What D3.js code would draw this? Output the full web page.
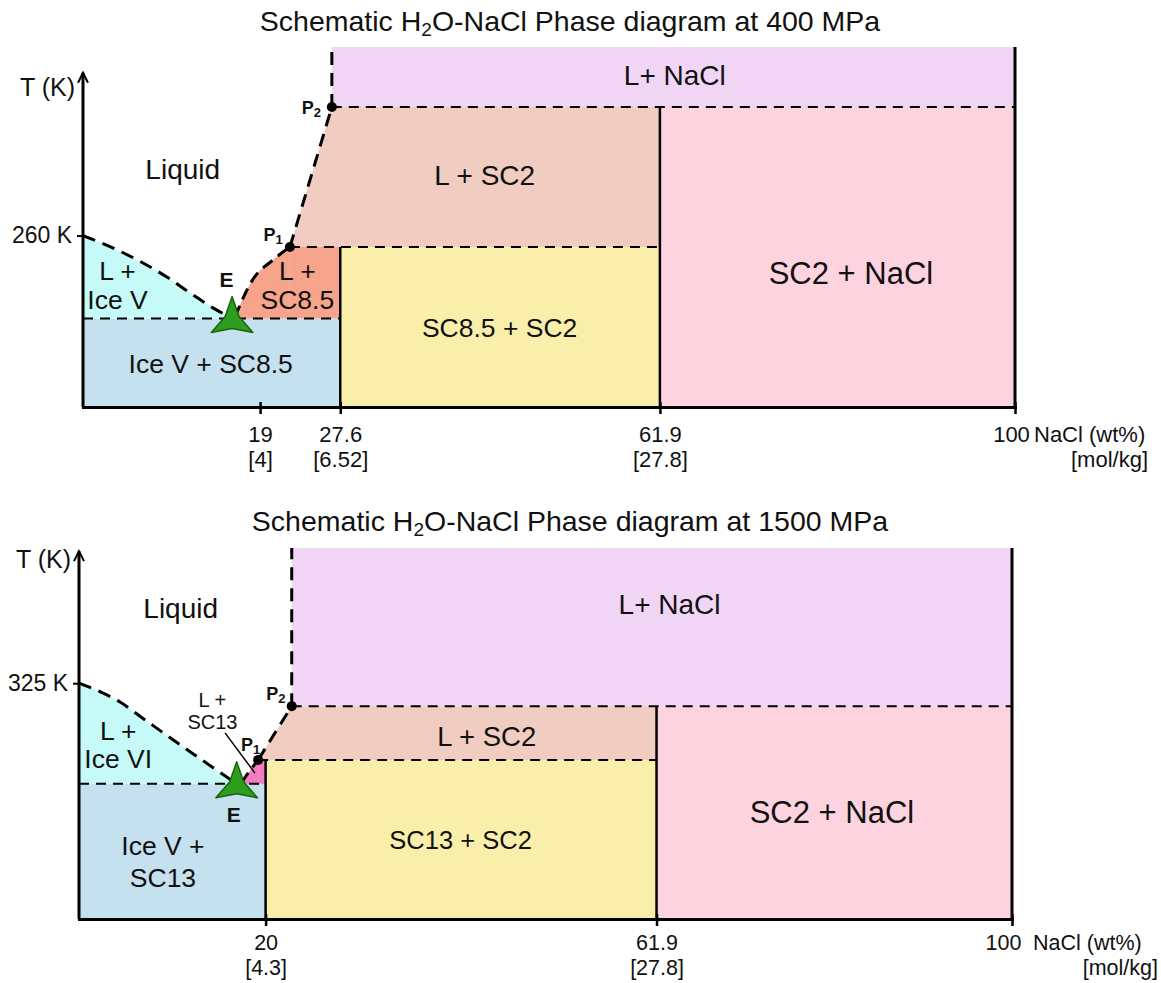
<!DOCTYPE html>
<html><head><meta charset="utf-8">
<script src="https://cdn.jsdelivr.net/npm/d3@7"></script>
<style>
body{margin:0;background:#fff;}
svg{display:block;font-family:"Liberation Sans",Arial,Helvetica,sans-serif;}
</style></head><body>
<svg id="chart" width="1161" height="983"></svg>
<script>
// ===================== DATA (wt% NaCl, temperature in K; schematic) =====================
// --- 400 MPa ---
const pressure400 = "400";
const xTicks400 = [19, 27.6, 61.9, 100];
const xTickWt400 = ["19", "27.6", "61.9", "100"];
const xTickMol400 = ["[4]", "[6.52]", "[27.8]", ""];
const tRange400 = [200, 326];
const tTick400 = 260;
const tArrow400 = 317;
const eutectic400 = [16, 231];
const iceLiquidus400 = [[0, 260], [3.65, 255], [6.44, 250.4], [9.0, 245.5], [11.5, 239.9], [13.95, 234.7], [16, 231]];
const scLiquidus400 = [[16.3, 231.5], [18.2, 244.5], [20.4, 251.5], [22.2, 256]];
const p1_400 = [22.2, 256];
const p2_400 = [26.7, 305];
const solidBounds400 = [27.6, 61.9];

// --- 1500 MPa ---
const pressure1500 = "1500";
const xTicks1500 = [20, 61.9, 100];
const xTickWt1500 = ["20", "61.9", "100"];
const xTickMol1500 = ["[4.3]", "[27.8]", ""];
const tRange1500 = [250, 368];
const tTick1500 = 325;
const tArrow1500 = 367;
const eutectic1500 = [16.9, 293];
const iceLiquidus1500 = [[0, 325], [2.25, 322.3], [4.4, 319], [6.86, 313.8], [11.9, 303.2], [16.9, 293]];
const scLiquidus1500 = [[17.4, 293.3], [18.4, 297.5], [19.2, 300.6]];
const p1_1500 = [19.2, 300.6];
const p2_1500 = [22.8, 317.7];
const solidBounds1500 = [20, 61.9];

// ===================== COLOURS =====================
const C = {
  iceSolid: "#c5e0ee", iceLiq: "#c6faf9", sc85Liq: "#f6a58c", sc13Liq: "#f27cbf",
  yellow: "#f9efaa", lsc2: "#f0cdc0", sc2nacl: "#fdd3df", lnacl: "#f1d5f5"
};

const svg = d3.select("#chart");

function starPath(cx, cy, R, r) {
  const pts = [];
  for (let i = 0; i < 6; i++) {
    const a = (-90 + i * 60) * Math.PI / 180;
    const rad = i % 2 === 0 ? R : r;
    pts.push([cx + rad * Math.cos(a), cy + rad * Math.sin(a)]);
  }
  return d3.line()(pts) + "Z";
}

function drawDiagram(cfg) {
  const g = svg.append("g");
  const x = d3.scaleLinear().domain([0, 100]).range(cfg.xRange);
  const y = d3.scaleLinear().domain(cfg.tRange).range(cfg.yRange);
  const [tMin, tMax] = cfg.tRange;
  const [b0, b1] = cfg.bounds;
  const eT = cfg.eut[1];
  const rect = (x0, x1, t0, t1, c) => g.append("rect")
    .attr("x", x(x0)).attr("y", y(t1)).attr("width", x(x1) - x(x0)).attr("height", y(t0) - y(t1)).attr("fill", c);
  const poly = (pts, c) => g.append("path")
    .attr("d", d3.line().x(d => x(d[0])).y(d => y(d[1]))(pts) + "Z").attr("fill", c);
  const area = (pts, c) => g.append("path")
    .attr("d", d3.area().x(d => x(d[0])).y0(y(eT)).y1(d => y(d[1])).curve(d3.curveMonotoneX)(pts)).attr("fill", c);

  // ---- fills ----
  rect(0, b0, tMin, eT, C.iceSolid);
  area(cfg.iceLiq, C.iceLiq);
  area(cfg.scLiq, cfg.scColor);
  rect(cfg.p1[0], b0, eT, cfg.p1[1], cfg.scColor);
  rect(b0, b1, tMin, cfg.p1[1], C.yellow);
  poly([cfg.p1, cfg.p2, [b1, cfg.p2[1]], [b1, cfg.p1[1]]], C.lsc2);
  rect(b1, 100, tMin, cfg.p2[1], C.sc2nacl);
  rect(cfg.p2[0], 100, cfg.p2[1], tMax, C.lnacl);

  // ---- lines ----
  const seg = (pts, w, dash, curve) => g.append("path")
    .attr("d", d3.line().x(d => x(d[0])).y(d => y(d[1])).curve(curve || d3.curveLinear)(pts))
    .attr("fill", "none").attr("stroke", "#000").attr("stroke-width", w)
    .attr("stroke-dasharray", dash);
  seg([[0, eT], [b0, eT]], 2, "10,7");
  seg([cfg.p1, [b1, cfg.p1[1]]], 2, "10,7");
  seg([cfg.p2, [100, cfg.p2[1]]], 2, "10,7");
  seg(cfg.iceLiq, 3, "13,8", d3.curveMonotoneX);
  seg(cfg.scLiq, 3, "12,7", d3.curveMonotoneX);
  seg([cfg.p1, cfg.p2], 3, "13,8");
  seg([cfg.p2, [cfg.p2[0], tMax]], 3, "13,8");
  seg([[b0, tMin], [b0, cfg.p1[1]]], 2.5, null);
  seg([[b1, tMin], [b1, cfg.p2[1]]], 2.5, null);
  seg([[100, tMin], [100, tMax]], 3, null);

  // ---- x axis ----
  const xAxis = d3.axisBottom(x).tickValues(cfg.ticks).tickFormat((d, i) => cfg.wt[i])
    .tickSizeInner(7).tickSizeOuter(0).tickPadding(0);
  const ax = g.append("g").attr("transform", `translate(0,${y(tMin)})`).call(xAxis)
    .attr("font-family", null).attr("font-size", null);
  ax.select(".domain").attr("stroke-width", 3).attr("stroke-linecap", "square");
  ax.selectAll(".tick line").attr("stroke-width", 2.5).attr("y1", -5);
  ax.selectAll(".tick text").attr("dy", null).attr("y", cfg.lab1).attr("font-size", cfg.axFs)
    .attr("dx", (d, i) => i === cfg.ticks.length - 1 ? cfg.lastDx : 0).attr("fill", "#111");
  ax.selectAll(".tick").append("text").text((d, i) => cfg.mol[i])
    .attr("y", cfg.lab2).attr("font-size", cfg.axFs).attr("text-anchor", "middle").attr("fill", "#111");
  g.append("text").attr("x", x(100) + cfg.naclDx).attr("y", y(tMin) + cfg.lab1)
    .attr("font-size", cfg.axFs).attr("fill", "#111").text("NaCl (wt%)");
  g.append("text").attr("x", cfg.molRight).attr("y", y(tMin) + cfg.lab2).attr("text-anchor", "end")
    .attr("font-size", cfg.axFs).attr("fill", "#111").text("[mol/kg]");

  // ---- y axis ----
  const yAxis = d3.axisLeft(y).tickValues([cfg.tTick]).tickFormat(d => d + " K").tickSize(6).tickPadding(5);
  const ay = g.append("g").attr("transform", `translate(${x(0)},0)`).call(yAxis)
    .attr("font-family", null).attr("font-size", null);
  ay.select(".domain").remove();
  ay.selectAll(".tick line").attr("stroke-width", 2);
  ay.selectAll(".tick text").attr("font-size", 23).attr("fill", "#111");
  seg([[0, tMin], [0, cfg.tArrow]], 3, null);
  const tip = y(cfg.tArrow), x0 = x(0);
  g.append("path").attr("d", `M${x0 - 5},${tip + 10}L${x0},${tip}L${x0 + 5},${tip + 10}`)
    .attr("fill", "none").attr("stroke", "#000").attr("stroke-width", 2);
  g.append("text").attr("x", x0 - 8).attr("y", tip + cfg.tkDy).attr("text-anchor", "end")
    .attr("font-size", 25).attr("fill", "#111").text("T (K)");

  // ---- title ----
  const tt = g.append("text").attr("x", 570).attr("y", cfg.titleY).attr("text-anchor", "middle")
    .attr("font-size", 28.5).attr("fill", "#111");
  tt.append("tspan").text("Schematic H");
  tt.append("tspan").attr("font-size", 19).attr("dy", 5).text("2");
  tt.append("tspan").attr("dy", -5).text(`O-NaCl Phase diagram at ${cfg.pressure} MPa`);

  // ---- points ----
  [cfg.p1, cfg.p2].forEach(p => g.append("circle").attr("cx", x(p[0])).attr("cy", y(p[1])).attr("r", 5).attr("fill", "#000"));
  g.append("path").attr("d", starPath(x(cfg.eut[0]), y(cfg.eut[1]) + 2, 24, 8))
    .attr("fill", "#2e9c1c").attr("stroke", "#17650f").attr("stroke-width", 1.5).attr("stroke-linejoin", "round");

  // ---- labels ----
  cfg.labels.forEach(L => {
    const t = g.append("text").attr("text-anchor", "middle").attr("font-size", L.s)
      .attr("font-weight", L.b ? "bold" : null).attr("fill", "#111");
    const n = L.t.length;
    L.t.forEach((line, i) => {
      t.append("tspan").attr("x", x(L.x)).attr("y", y(L.T) + (i - (n - 1) / 2) * (L.sp || 0))
        .attr("dominant-baseline", "central").text(line);
    });
  });
  cfg.pLabels.forEach(L => {
    const t = g.append("text").attr("x", x(L.x)).attr("y", y(L.T)).attr("text-anchor", "middle")
      .attr("dominant-baseline", "central").attr("font-weight", "bold").attr("font-size", 18).attr("fill", "#111");
    t.append("tspan").text("P");
    t.append("tspan").attr("font-size", 13).attr("dy", 4).text(L.sub);
  });
  if (cfg.leader) seg(cfg.leader, 1.5, null);
}

drawDiagram({
  pressure: pressure400, xRange: [83, 1015], yRange: [407, 47], tRange: tRange400,
  ticks: xTicks400, wt: xTickWt400, mol: xTickMol400, tTick: tTick400, tArrow: tArrow400,
  eut: eutectic400, iceLiq: iceLiquidus400, scLiq: scLiquidus400, p1: p1_400, p2: p2_400,
  bounds: solidBounds400, scColor: C.sc85Liq, titleY: 31, lab1: 35, lab2: 60, lastDx: -4,
  axFs: 22, naclDx: 19, molRight: 1148, tkDy: 23,
  labels: [
    { t: ["Liquid"], x: 10.7, T: 283, s: 28 },
    { t: ["L +", "Ice V"], x: 3.7, T: 242.5, s: 26.5, sp: 29 },
    { t: ["E"], x: 15.4, T: 244.5, s: 21, b: true },
    { t: ["L +", "SC8.5"], x: 23.0, T: 242.4, s: 26.5, sp: 29 },
    { t: ["Ice V + SC8.5"], x: 13.7, T: 215, s: 26.5 },
    { t: ["SC8.5 + SC2"], x: 44.7, T: 227.7, s: 26.5 },
    { t: ["L + SC2"], x: 43.1, T: 280.9, s: 28 },
    { t: ["SC2 + NaCl"], x: 82.4, T: 246.9, s: 31 },
    { t: ["L+ NaCl"], x: 63.5, T: 316.2, s: 28 }
  ],
  pLabels: [{ sub: "1", x: 20.4, T: 260.2 }, { sub: "2", x: 24.5, T: 304.5 }]
});

drawDiagram({
  pressure: pressure1500, xRange: [79, 1012], yRange: [919, 548], tRange: tRange1500,
  ticks: xTicks1500, wt: xTickWt1500, mol: xTickMol1500, tTick: tTick1500, tArrow: tArrow1500,
  eut: eutectic1500, iceLiq: iceLiquidus1500, scLiq: scLiquidus1500, p1: p1_1500, p2: p2_1500,
  bounds: solidBounds1500, scColor: C.sc13Liq, titleY: 531, lab1: 31, lab2: 56, lastDx: -9,
  axFs: 21.5, naclDx: 21, molRight: 1158, tkDy: 17,
  labels: [
    { t: ["Liquid"], x: 10.9, T: 348.9, s: 28 },
    { t: ["L +", "Ice VI"], x: 4.2, T: 305.3, s: 26.5, sp: 28 },
    { t: ["E"], x: 16.6, T: 283.1, s: 21, b: true },
    { t: ["L +", "SC13"], x: 14.3, T: 316.3, s: 20, sp: 22 },
    { t: ["Ice V +", "SC13"], x: 9.0, T: 268.1, s: 26.5, sp: 32 },
    { t: ["SC13 + SC2"], x: 40.9, T: 275.1, s: 25.5 },
    { t: ["L + SC2"], x: 43.7, T: 307.9, s: 27.5 },
    { t: ["SC2 + NaCl"], x: 80.7, T: 284.0, s: 31 },
    { t: ["L+ NaCl"], x: 63.3, T: 349.9, s: 28 }
  ],
  pLabels: [{ sub: "1", x: 18.4, T: 305.3 }, { sub: "2", x: 21.1, T: 321.6 }],
  leader: [[15.65, 309.2], [18.86, 296.4]]
});
</script>
</body></html>
